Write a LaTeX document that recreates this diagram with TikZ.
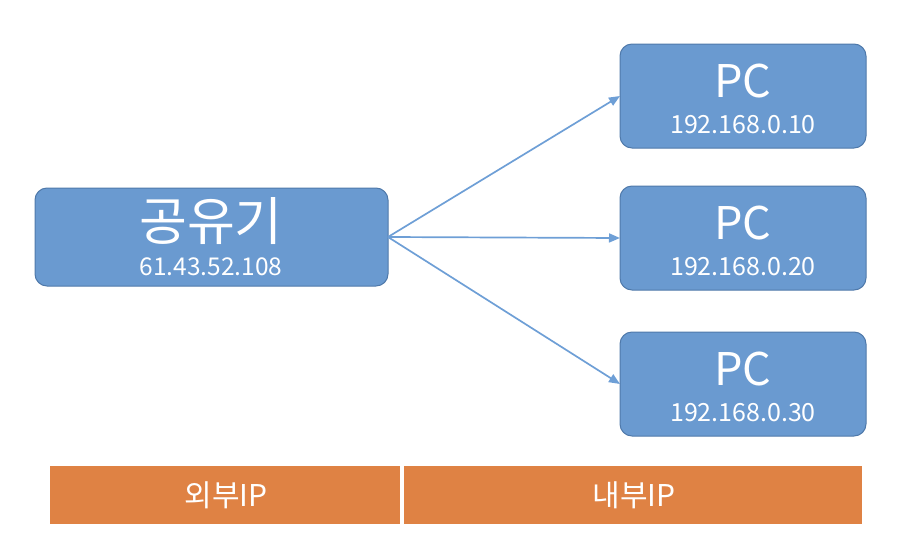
\documentclass[tikz,border=0pt]{standalone}
\usepackage{fontspec}
\setmainfont{Noto Sans CJK KR}
\usetikzlibrary{arrows.meta}
\definecolor{boxfill}{HTML}{6A9AD0}
\definecolor{boxline}{HTML}{4F79AA}
\definecolor{arrowc}{HTML}{6E9FD6}
\definecolor{barfill}{HTML}{DF8244}
\begin{document}
\begin{tikzpicture}[x=1pt,y=-1pt,
  bluebox/.style={draw=boxline,fill=boxfill,line width=1pt,rounded corners=12pt},
  bigtxt/.style={text=white,inner sep=0pt,anchor=center},
  conn/.style={draw=arrowc,line width=1.7pt,-{Triangle[length=11pt,width=9pt]}},
  bar/.style={fill=barfill,draw=none}]
\useasboundingbox (0,0) rectangle (898,552);
% router
\draw[bluebox] (35,188) rectangle (388,286);
\coordinate (r) at (388,237);
\node[bigtxt,font=\fontsize{52}{52}\selectfont] (rt) at (211,221) {공유기};
\node[bigtxt,font=\fontsize{24.5}{24.5}\selectfont] (rip) at (211,267) {61.43.52.108};
% PCs
\foreach \t/\n/\ip in {44/1/192.168.0.10,186/2/192.168.0.20,332/3/192.168.0.30}{
  \draw[bluebox] (620,\t) rectangle (866,\t+104);
  \coordinate (p\n) at (620,\t+52);
  \node[bigtxt,font=\fontsize{45}{45}\selectfont] (pc\n) at (743,\t+37) {PC};
  \node[bigtxt,font=\fontsize{25}{25}\selectfont] (ip\n) at (743,\t+81) {\ip};
}
\draw[conn] (r) -- (p1);
\draw[conn] (r) -- (p2);
\draw[conn] (r) -- (p3);
% bars
\fill[bar] (50,466) rectangle (400,524);
\fill[bar] (404,466) rectangle (862,524);
\node[bigtxt,font=\fontsize{30}{30}\selectfont] (ext) at (226,495) {외부IP};
\node[bigtxt,font=\fontsize{30}{30}\selectfont] (int) at (634,495) {내부IP};
\end{tikzpicture}
\end{document}
